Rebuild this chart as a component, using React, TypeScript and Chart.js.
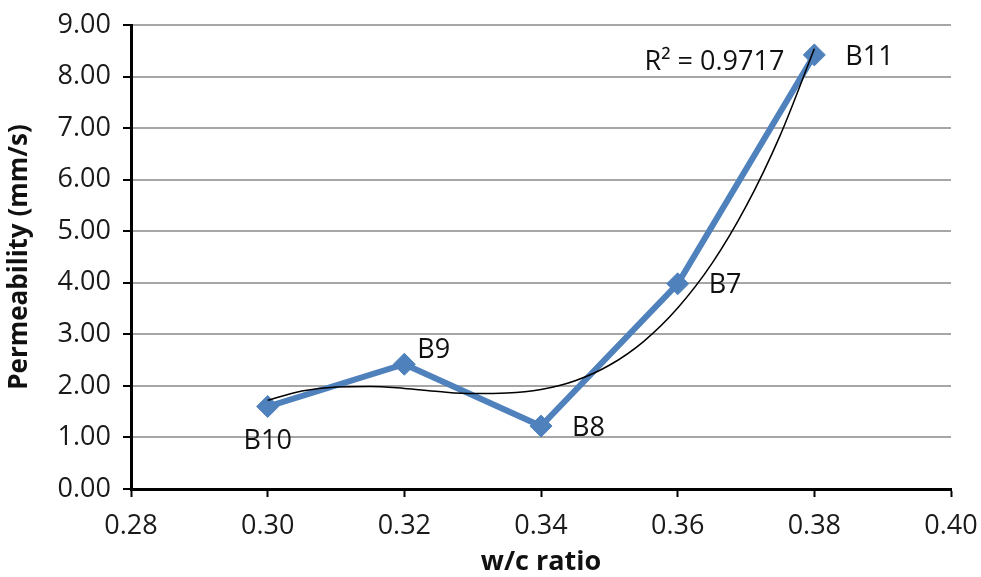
import React, { useEffect, useRef } from "react";
import { Chart, registerables } from "chart.js";

Chart.register(...registerables);

const wcRatio = [0.30, 0.32, 0.34, 0.36, 0.38];
const permeability = [1.60, 2.42, 1.22, 3.98, 8.42];
const sampleNames = ["B10", "B9", "B8", "B7", "B11"];
const labelPlacement = ["below", "aboveRight", "right", "right", "right"];

const trendX = [0.300, 0.305, 0.310, 0.315, 0.320, 0.325, 0.330, 0.335, 0.340, 0.345, 0.350, 0.355, 0.360, 0.365, 0.370, 0.375, 0.380];
const trendY = [1.72, 1.90, 1.98, 1.99, 1.95, 1.89, 1.85, 1.86, 1.93, 2.10, 2.40, 2.86, 3.51, 4.37, 5.48, 6.86, 8.54];
const rSquaredText = "R² = 0.9717";

const yTicks = [0, 1, 2, 3, 4, 5, 6, 7, 8, 9];
const xTicks = [0.28, 0.30, 0.32, 0.34, 0.36, 0.38, 0.40];

const FONT = "'Open Sans', 'Liberation Sans', sans-serif";

const labelPlugin = {
  id: "pointLabels",
  afterDatasetsDraw(chart: any) {
    const ctx = chart.ctx;
    const meta = chart.getDatasetMeta(0);
    ctx.save();
    ctx.font = `27px ${FONT}`;
    ctx.fillStyle = "#111";
    meta.data.forEach((pt: any, i: number) => {
      const place = labelPlacement[i];
      let x = pt.x;
      let y = pt.y;
      if (place === "below") {
        ctx.textAlign = "center";
        ctx.textBaseline = "middle";
        y += 35;
      } else if (place === "aboveRight") {
        ctx.textAlign = "left";
        ctx.textBaseline = "middle";
        x += 13;
        y -= 14;
      } else {
        ctx.textAlign = "left";
        ctx.textBaseline = "middle";
        x += 31;
        y += 2;
      }
      ctx.fillText(sampleNames[i], x, y);
    });
    const tMeta = chart.getDatasetMeta(1);
    const last = tMeta.data[tMeta.data.length - 1];
    ctx.textAlign = "right";
    ctx.textBaseline = "middle";
    ctx.fillText(rSquaredText, last.x - 30, last.y + 14);
    ctx.restore();
  },
};

export default function App() {
  const ref = useRef<HTMLCanvasElement>(null);

  useEffect(() => {
    document.body.style.margin = "0";
    const canvas = ref.current!;
    const chart = new Chart(canvas, {
      type: "line",
      data: {
        datasets: [
          {
            label: "Permeability",
            data: wcRatio.map((x, i) => ({ x, y: permeability[i] })),
            borderColor: "#4f81bd",
            backgroundColor: "#4f81bd",
            borderWidth: 6,
            pointStyle: "rectRot",
            pointRadius: 11,
            pointBorderWidth: 1,
            tension: 0,
            order: 1,
          },
          {
            label: "Trend",
            data: trendX.map((x, i) => ({ x, y: trendY[i] })),
            borderColor: "#000",
            borderWidth: 1.5,
            pointRadius: 0,
            cubicInterpolationMode: "monotone",
            order: 0,
          },
        ],
      },
      options: {
        animation: false,
        responsive: false,
        maintainAspectRatio: false,
        layout: { padding: { left: 0, top: 25, right: 30, bottom: 0 } },
        plugins: {
          legend: { display: false },
          tooltip: { enabled: false },
        },
        scales: {
          x: {
            type: "linear",
            min: 0.28,
            max: 0.40,
            afterBuildTicks: (scale: any) => {
              scale.ticks = xTicks.map((v) => ({ value: v }));
            },
            afterFit: (scale: any) => {
              scale.height = 88;
              scale.paddingLeft = 0;
              scale.paddingRight = 0;
            },
            ticks: {
              font: { family: FONT, size: 27 },
              color: "#1a1a1a",
              padding: 13,
              callback: (v: any) => Number(v).toFixed(2),
            },
            grid: {
              drawOnChartArea: false,
              drawTicks: true,
              tickLength: 8,
              tickWidth: 2,
              tickColor: "#000",
            },
            border: { color: "#000", width: 3 },
            title: {
              display: true,
              text: "w/c ratio",
              font: { family: FONT, size: 27, weight: "bold" },
              color: "#111",
              padding: { top: 0, bottom: -2 },
            },
          },
          y: {
            min: 0,
            max: 9,
            afterBuildTicks: (scale: any) => {
              scale.ticks = yTicks.map((v) => ({ value: v }));
            },
            afterFit: (scale: any) => {
              scale.width = 131;
              scale.paddingTop = 0;
              scale.paddingBottom = 0;
            },
            ticks: {
              font: { family: FONT, size: 27 },
              color: "#1a1a1a",
              padding: 12,
              callback: (v: any) => Number(v).toFixed(2),
            },
            grid: {
              color: "#a6a6a6",
              lineWidth: 2,
              drawTicks: true,
              tickLength: 8,
              tickWidth: 2,
              tickColor: "#000",
            },
            border: { color: "#000", width: 3 },
            title: {
              display: true,
              text: "Permeability (mm/s)",
              font: { family: FONT, size: 26, weight: "bold" },
              color: "#111",
              padding: { top: 4, bottom: 0 },
            },
          },
        },
      },
      plugins: [labelPlugin],
    } as any);
    return () => chart.destroy();
  }, []);

  return (
    <div style={{ width: 981, height: 577 }}>
      <canvas ref={ref} width={981} height={577} style={{ width: 981, height: 577, display: "block" }} />
    </div>
  );
}
